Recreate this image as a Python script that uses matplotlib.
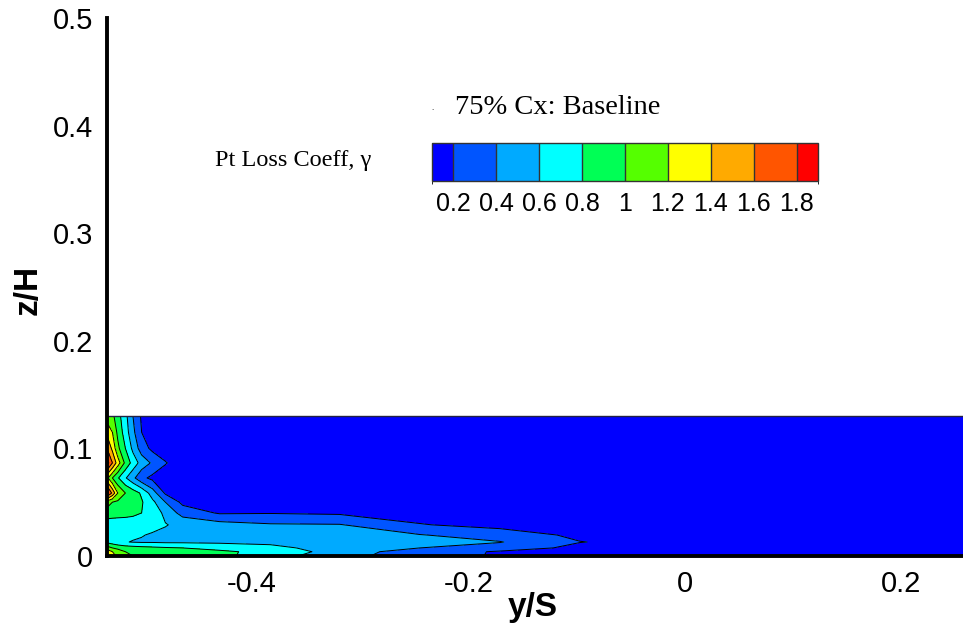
import numpy as np
import matplotlib
matplotlib.use("Agg")
import matplotlib.pyplot as plt
from matplotlib.colors import ListedColormap, BoundaryNorm
import matplotlib.colorbar as mcolorbar

# ---- data ----
y_nodes = [-0.534, -0.529, -0.524, -0.517, -0.510, -0.502, -0.492, -0.480, -0.464,
           -0.430, -0.383, -0.319, -0.245, -0.171, -0.097, 0.014, 0.257]
z_nodes = [0.0, 0.004, 0.0075, 0.013, 0.0195, 0.029, 0.04, 0.05, 0.0585,
           0.0725, 0.0865, 0.1, 0.115, 0.13]

gamma = [
    [1.50, 1.30, 1.15, 1.05, 1.00, 0.95, 0.92, 0.90, 0.88, 0.85, 0.70, 0.45, 0.32, 0.17, 0.10, 0.10, 0.10],
    [1.35, 1.20, 1.10, 1.00, 0.95, 0.92, 0.90, 0.88, 0.86, 0.83, 0.75, 0.50, 0.30, 0.18, 0.12, 0.10, 0.10],
    [1.10, 1.00, 0.95, 0.90, 0.88, 0.86, 0.84, 0.82, 0.80, 0.75, 0.66, 0.50, 0.40, 0.30, 0.15, 0.10, 0.10],
    [0.75, 0.70, 0.65, 0.61, 0.59, 0.58, 0.58, 0.57, 0.57, 0.56, 0.55, 0.52, 0.47, 0.41, 0.205, 0.12, 0.10],
    [0.72, 0.70, 0.68, 0.65, 0.63, 0.61, 0.58, 0.56, 0.54, 0.52, 0.50, 0.47, 0.41, 0.30, 0.16, 0.11, 0.10],
    [0.70, 0.70, 0.70, 0.70, 0.70, 0.69, 0.66, 0.61, 0.55, 0.48, 0.42, 0.41, 0.21, 0.14, 0.12, 0.10, 0.10],
    [0.90, 0.88, 0.87, 0.86, 0.84, 0.80, 0.72, 0.55, 0.32, 0.18, 0.19, 0.17, 0.12, 0.10, 0.10, 0.10, 0.10],
    [1.10, 1.00, 0.96, 0.93, 0.89, 0.82, 0.65, 0.40, 0.15, 0.12, 0.10, 0.10, 0.10, 0.10, 0.10, 0.10, 0.10],
    [1.90, 1.55, 1.20, 1.00, 0.90, 0.77, 0.50, 0.17, 0.12, 0.10, 0.10, 0.10, 0.10, 0.10, 0.10, 0.10, 0.10],
    [1.25, 1.00, 0.82, 0.62, 0.45, 0.25, 0.15, 0.12, 0.10, 0.10, 0.10, 0.10, 0.10, 0.10, 0.10, 0.10, 0.10],
    [1.90, 1.60, 1.30, 0.95, 0.72, 0.52, 0.37, 0.21, 0.12, 0.10, 0.10, 0.10, 0.10, 0.10, 0.10, 0.10, 0.10],
    [1.60, 1.35, 1.05, 0.80, 0.55, 0.30, 0.15, 0.12, 0.10, 0.10, 0.10, 0.10, 0.10, 0.10, 0.10, 0.10, 0.10],
    [1.35, 1.20, 0.95, 0.70, 0.45, 0.20, 0.12, 0.10, 0.10, 0.10, 0.10, 0.10, 0.10, 0.10, 0.10, 0.10, 0.10],
    [1.10, 1.05, 0.88, 0.66, 0.40, 0.17, 0.10, 0.10, 0.10, 0.10, 0.10, 0.10, 0.10, 0.10, 0.10, 0.10, 0.10],
]

line_levels = [0.2, 0.4, 0.6, 0.8, 1.0, 1.2, 1.4, 1.6, 1.8]
fill_levels = [0.0] + line_levels + [2.5]
cbar_bounds = [0.1] + line_levels + [1.9]
cbar_labels = ["0.2", "0.4", "0.6", "0.8", "1", "1.2", "1.4", "1.6", "1.8"]
level_colors = ["#0000FF", "#0055FF", "#00AAFF", "#00FFFF", "#00FF55",
                "#55FF00", "#FFFF00", "#FFAA00", "#FF5500", "#FF0000"]

x_ticks = [-0.4, -0.2, 0.0, 0.2]
x_ticklabels = ["-0.4", "-0.2", "0", "0.2"]
y_ticks = [0, 0.1, 0.2, 0.3, 0.4, 0.5]
y_ticklabels = ["0", "0.1", "0.2", "0.3", "0.4", "0.5"]

# ---- figure ----
W, H = 963, 636
fig = plt.figure(figsize=(W / 100, H / 100), dpi=100)
ax = fig.add_axes([107 / W, (H - 556) / H, (W - 107) / W, (556 - 18) / H])

Y, Z = np.meshgrid(y_nodes, z_nodes)
V = np.array(gamma)
ax.contourf(Y, Z, V, levels=fill_levels, colors=level_colors, zorder=1)
ax.contour(Y, Z, V, levels=line_levels, colors="black", linewidths=0.7, zorder=2)
ax.plot([y_nodes[0], y_nodes[-1]], [z_nodes[-1], z_nodes[-1]],
        color="#222244", lw=1.0, zorder=3)

ax.set_xlim(y_nodes[0], y_nodes[-1])
ax.set_ylim(0, 0.5)
ax.set_xticks(x_ticks)
ax.set_xticklabels(x_ticklabels, fontfamily="Liberation Sans", fontsize=21)
ax.set_yticks(y_ticks)
ax.set_yticklabels(y_ticklabels, fontfamily="Liberation Sans", fontsize=21)
ax.tick_params(length=0, pad=10)
for s in ["top", "right"]:
    ax.spines[s].set_visible(False)
for s in ["left", "bottom"]:
    ax.spines[s].set_linewidth(2.8)
    ax.spines[s].set_zorder(5)

ax.set_xlabel("y/S", fontfamily="Liberation Sans", fontweight="bold", fontsize=24)
ax.xaxis.set_label_coords((533 - 107) / (W - 107), (556 - 592) / 538)
ax.set_ylabel("z/H", fontfamily="Liberation Sans", fontweight="bold", fontsize=24)
ax.yaxis.set_label_coords((44 - 107) / (W - 107), (556 - 290) / 538)

# ---- colorbar legend ----
cax = fig.add_axes([432 / W, (H - 181) / H, (818 - 432) / W, 38 / H])
cb = mcolorbar.ColorbarBase(cax, cmap=ListedColormap(level_colors),
                            norm=BoundaryNorm(cbar_bounds, len(level_colors)),
                            boundaries=cbar_bounds, spacing="proportional",
                            orientation="horizontal",
                            ticks=line_levels, drawedges=True)
cb.dividers.set_color("#333333")
cb.dividers.set_linewidth(1.0)
cb.outline.set_edgecolor("#333333")
cb.outline.set_linewidth(1.0)
cax.set_xticklabels(cbar_labels, fontfamily="Liberation Sans", fontsize=18)
cax.tick_params(length=0, pad=8)

fig.text(455 / W, (H - 108) / H, "75% Cx: Baseline", fontfamily="Liberation Serif",
         fontsize=20.5, ha="left", va="center")
fig.text(432 / W, (H - 108) / H, ".", fontsize=5, ha="center", va="center")
fig.text(215 / W, (H - 160) / H, "Pt Loss Coeff, γ", fontfamily="Liberation Serif",
         fontsize=17.5, ha="left", va="center")

fig.savefig("out.png", dpi=100)
